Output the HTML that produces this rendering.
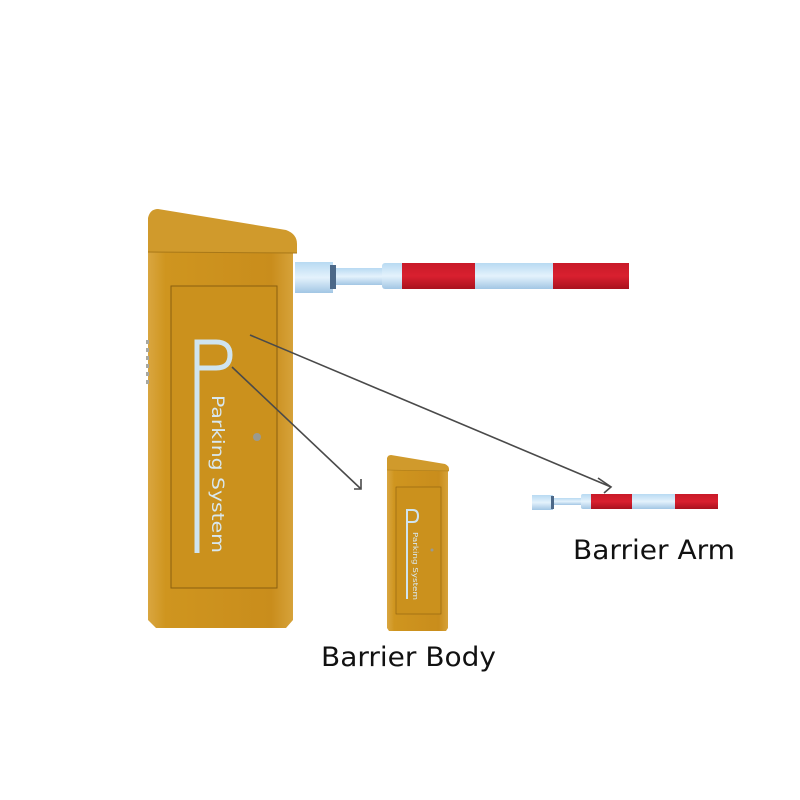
<!DOCTYPE html>
<html><head><meta charset="utf-8"><style>
html,body{margin:0;padding:0;background:#fff;width:800px;height:800px;overflow:hidden}
</style></head><body>
<svg width="800" height="800" viewBox="0 0 800 800" xmlns="http://www.w3.org/2000/svg" font-family="DejaVu Sans, Liberation Sans, sans-serif">
<defs>
<linearGradient id="body" x1="0" x2="1" y1="0" y2="0">
<stop offset="0" stop-color="#d9a640"/><stop offset="0.12" stop-color="#cf951f"/><stop offset="0.85" stop-color="#c98d1c"/><stop offset="1" stop-color="#d6a23a"/>
</linearGradient>
<linearGradient id="tube" x1="0" x2="0" y1="0" y2="1">
<stop offset="0" stop-color="#b8daf2"/><stop offset="0.5" stop-color="#e4f2fc"/><stop offset="1" stop-color="#a2c6e4"/>
</linearGradient>
<linearGradient id="red" x1="0" x2="0" y1="0" y2="1">
<stop offset="0" stop-color="#c81a28"/><stop offset="0.5" stop-color="#d9202f"/><stop offset="1" stop-color="#a9121e"/>
</linearGradient>
</defs>

<path d="M148,252 L148,620 L156,628 L286,628 L293,620 L293,252 Z" fill="url(#body)"/>
<path d="M148,252 L148,218 Q150,209 158,209 L286,230 Q297,234 297,244 L297,253 Z" fill="#d09a2c"/>
<line x1="148" y1="252" x2="297" y2="253" stroke="#a87818" stroke-width="1"/>
<rect x="171" y="286" width="106" height="302" fill="#cb911d" stroke="#8a5f10" stroke-width="1"/>
<g fill="#a8a8a0"><rect x="146" y="340" width="3" height="4"/><rect x="146" y="348" width="3" height="4"/><rect x="146" y="356" width="3" height="4"/><rect x="146" y="364" width="3" height="4"/><rect x="146" y="372" width="3" height="4"/><rect x="146" y="380" width="3" height="4"/></g>
<path d="M197,553 L197,342 L216,342 Q230,342 230,355 Q230,368 216,368 L197,368" fill="none" stroke="#cfe4f0" stroke-width="5"/>
<text transform="translate(212,395) rotate(90)" font-size="17" fill="#d8e8f0" textLength="158" lengthAdjust="spacingAndGlyphs">Parking System</text>
<circle cx="257" cy="437" r="4" fill="#9a9a90"/>

<rect x="295" y="262" width="38" height="31" fill="url(#tube)"/>
<rect x="330" y="265" width="6" height="24" fill="#4c6888"/>
<rect x="336" y="268" width="48" height="17" fill="url(#tube)"/>
<rect x="382" y="263" width="22" height="26" rx="3" fill="url(#tube)"/>
<rect x="402" y="263" width="73" height="26" fill="url(#red)"/>
<rect x="475" y="263" width="78" height="26" fill="url(#tube)"/>
<rect x="553" y="263" width="76" height="26" fill="url(#red)"/>

<path d="M387,470 L387,628 L389,631 L446,631 L448,628 L448,470 Z" fill="url(#body)"/>
<path d="M387,470 L387,458 Q388,455 391,455 L445,464 Q449,466 449,469 L449,471 Z" fill="#d09a2c"/>
<line x1="387" y1="470" x2="449" y2="471" stroke="#a87818" stroke-width="0.6"/>
<rect x="396" y="487" width="45" height="127" fill="#cb911d" stroke="#8a5f10" stroke-width="0.6"/>
<path d="M407,599 L407,510 L413,510 Q418,510 418,516 Q418,522 413,522 L407,522" fill="none" stroke="#cfe4f0" stroke-width="2"/>
<text transform="translate(413,532) rotate(90)" font-size="7" fill="#d8e8f0" textLength="68" lengthAdjust="spacingAndGlyphs">Parking System</text>
<circle cx="432" cy="550" r="1.5" fill="#9a9a90"/>

<rect x="532" y="495" width="21" height="15" fill="url(#tube)"/>
<rect x="551" y="496" width="3" height="13" fill="#4c6888"/>
<rect x="554" y="498" width="28" height="7" fill="url(#tube)"/>
<rect x="581" y="494" width="11" height="15" rx="2" fill="url(#tube)"/>
<rect x="591" y="494" width="41" height="15" fill="url(#red)"/>
<rect x="632" y="494" width="43" height="15" fill="url(#tube)"/>
<rect x="675" y="494" width="43" height="15" fill="url(#red)"/>

<g stroke="#4a4a4a" stroke-width="1.6" fill="none">
<line x1="250" y1="335" x2="611" y2="487"/>
<path d="M598,478 L611,487 L604,493"/>
<line x1="232" y1="367" x2="361" y2="489"/>
<path d="M354,489 L361,489 L361,479"/>
</g>

<text x="573" y="559" font-size="27" fill="#111" textLength="162" lengthAdjust="spacingAndGlyphs">Barrier Arm</text>
<text x="321" y="666" font-size="27" fill="#111" textLength="175" lengthAdjust="spacingAndGlyphs">Barrier Body</text>
</svg>
</body></html>
